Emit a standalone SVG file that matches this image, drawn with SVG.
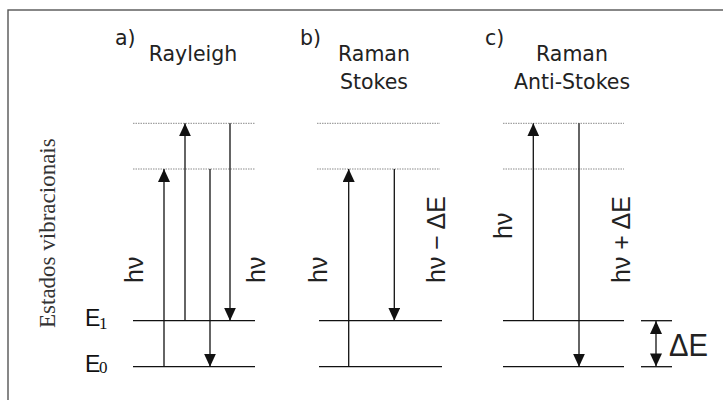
<svg xmlns="http://www.w3.org/2000/svg" width="723" height="400" viewBox="0 0 723 400">
  <style>
    .frame { fill: #ffffff; stroke: #555555; stroke-width: 1.4; }
    .lvl { stroke: #111111; stroke-width: 1.3; fill: none; }
    .virt { stroke: #8a8a8a; stroke-width: 1; stroke-dasharray: 1.5 1; fill: none; }
    .arr { stroke: #111111; stroke-width: 1.3; fill: none; }
    .ttl { font-family: "DejaVu Sans", Verdana, sans-serif; font-size: 20.5px; fill: #222222; }
    .sym { font-family: "Liberation Sans", Arial, sans-serif; font-size: 25px; fill: #222222; }
    .lab { font-family: "Liberation Sans", Arial, sans-serif; font-size: 23px; fill: #111111; }
    .sub { font-family: "Liberation Serif", "Times New Roman", serif; font-size: 17px; fill: #111111; }
    .axis { font-family: "Liberation Serif", "Times New Roman", serif; font-size: 23px; fill: #333333; }
  </style>
  <defs>
    <marker id="head" viewBox="0 0 13 12" refX="13" refY="6" markerWidth="13" markerHeight="12" markerUnits="userSpaceOnUse" orient="auto-start-reverse">
      <path d="M0,0 L13,6 L0,12 Z" fill="#111111"/>
    </marker>
  </defs>

  <rect class="frame" x="8" y="10" width="725" height="400"/>

  <!-- axis label -->
  <text class="axis" transform="translate(55,328) rotate(-90)">Estados vibracionais</text>

  <!-- level names -->
  <g id="E1">
    <text class="lab" x="85" y="325.5">E</text>
    <text class="sub" x="99" y="328.5">1</text>
  </g>
  <g id="E0">
    <text class="lab" x="85" y="371.5">E</text>
    <text class="sub" x="99" y="373">0</text>
  </g>

  <!-- a) Rayleigh -->
  <g id="rayleigh">
    <text class="ttl" x="115" y="44.5">a)</text>
    <text class="ttl" x="193" y="61" text-anchor="middle">Rayleigh</text>
    <line class="virt" x1="133" y1="123.3" x2="255" y2="123.3"/>
    <line class="virt" x1="133" y1="169" x2="255" y2="169"/>
    <line class="lvl" x1="133" y1="320.7" x2="255" y2="320.7"/>
    <line class="lvl" x1="133" y1="366.7" x2="255" y2="366.7"/>
    <text class="sym" transform="translate(143,283) rotate(-90)">hν</text>
    <text class="sym" transform="translate(265,283) rotate(-90)">hν</text>
  </g>

  <!-- b) Raman Stokes -->
  <g id="stokes">
    <text class="ttl" x="300" y="45">b)</text>
    <text class="ttl" x="374" y="61" text-anchor="middle">Raman</text>
    <text class="ttl" x="374" y="89" text-anchor="middle">Stokes</text>
    <line class="virt" x1="317" y1="123.3" x2="440" y2="123.3"/>
    <line class="virt" x1="317" y1="169" x2="440" y2="169"/>
    <line class="lvl" x1="319" y1="320.7" x2="442" y2="320.7"/>
    <line class="lvl" x1="319" y1="366.7" x2="442" y2="366.7"/>
    <text class="sym" transform="translate(327,283) rotate(-90)">hν</text>
    <text class="sym" transform="translate(445,283) rotate(-90)">hν − ΔE</text>
  </g>

  <!-- c) Raman Anti-Stokes -->
  <g id="antistokes">
    <text class="ttl" x="485" y="45">c)</text>
    <text class="ttl" x="572" y="61" text-anchor="middle">Raman</text>
    <text class="ttl" x="572" y="89" text-anchor="middle">Anti-Stokes</text>
    <line class="virt" x1="503" y1="123.3" x2="624" y2="123.3"/>
    <line class="virt" x1="503" y1="169" x2="624" y2="169"/>
    <line class="lvl" x1="503" y1="320.7" x2="624" y2="320.7"/>
    <line class="lvl" x1="503" y1="366.7" x2="624" y2="366.7"/>
    <text class="sym" transform="translate(512,239) rotate(-90)">hν</text>
    <text class="sym" transform="translate(630,283) rotate(-90)">hν + ΔE</text>
  </g>

  <!-- energy gap scale -->
  <g id="gap">
    <line class="lvl" x1="641" y1="320.7" x2="672" y2="320.7"/>
    <line class="lvl" x1="641" y1="366.7" x2="672" y2="366.7"/>
    <line class="arr" x1="656" y1="321" x2="656" y2="366.4" marker-start="url(#head)" marker-end="url(#head)"/>
    <text class="sym" x="669" y="355.5" style="font-size:31px" textLength="39" lengthAdjust="spacingAndGlyphs">ΔE</text>
  </g>

  <!-- transitions -->
  <g id="connectors">
    <line class="arr" x1="164" y1="366.7" x2="164" y2="169" marker-end="url(#head)"/>
    <line class="arr" x1="185" y1="320.7" x2="185" y2="123.3" marker-end="url(#head)"/>
    <line class="arr" x1="210" y1="169" x2="210" y2="366.7" marker-end="url(#head)"/>
    <line class="arr" x1="230" y1="123.3" x2="230" y2="320.7" marker-end="url(#head)"/>
    <line class="arr" x1="348.7" y1="366.7" x2="348.7" y2="169" marker-end="url(#head)"/>
    <line class="arr" x1="394.3" y1="169" x2="394.3" y2="320.7" marker-end="url(#head)"/>
    <line class="arr" x1="533.3" y1="320.7" x2="533.3" y2="123.3" marker-end="url(#head)"/>
    <line class="arr" x1="579" y1="123.3" x2="579" y2="366.7" marker-end="url(#head)"/>
  </g>
</svg>
